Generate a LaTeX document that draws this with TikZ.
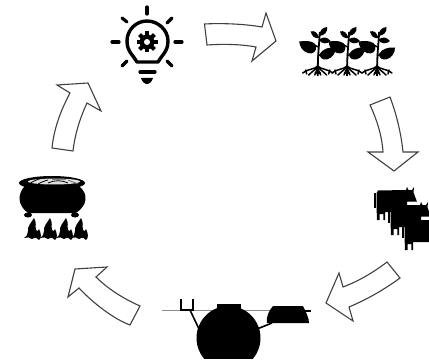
\documentclass[tikz,border=0pt]{standalone}
\tikzset{
	bigarrow/.style={draw=black!75,line width=1.1pt,fill=white,line join=miter},
	ink/.style={fill=black,draw=none},
	bulbline/.style={draw=black,line width=3.2pt,line cap=round},
	rootline/.style={draw=black,line width=1.5pt,line cap=round}
}
\newcommand{\plantshape}[1]{
	\begin{scope}[shift={(#1,0)}]
		\draw[black,line width=1.8pt] (2,32) .. controls (2,42) and (0,50) .. (0,76);
		\draw[black,line width=1.4pt] (0.5,47) -- (-3,45);
		\draw[black,line width=1.4pt] (0,56) -- (4,54);
		\fill[ink] (-18.5,41.5) .. controls (-10,40.5) and (-3,41) .. (-1.5,46) .. controls (-1,52) and (-5,54.5) .. (-10,53) .. controls (-15,51) and (-18,47) .. (-18.5,41.5) -- cycle;
		\fill[ink] (18,47.5) .. controls (12,47) and (5,48.5) .. (2,54) .. controls (2,58) and (5,60) .. (9,59.5) .. controls (15,58) and (18,53) .. (18,47.5) -- cycle;
		\fill[ink] (-7,31.5) .. controls (-3,30) and (0,33) .. (1.5,38) .. controls (-3,39) and (-6,36) .. (-7,31.5) -- cycle;
		\fill[ink] (9.5,27) .. controls (5,27.5) and (2,30) .. (1.5,36) .. controls (7,35.5) and (10,32) .. (9.5,27) -- cycle;
		\fill[ink] (13,41) .. controls (9,36.5) and (5,36.5) .. (1.5,40) .. controls (4,44) and (9,44.5) .. (13,41) -- cycle;
		\draw[rootline] (0,66) .. controls (-4,70) and (-8,68) .. (-15,73);
		\draw[rootline] (0,67) .. controls (-3,70) and (-6,72) .. (-9,75);
		\draw[rootline] (0,68) -- (-3,75);
		\draw[rootline] (0,66) .. controls (4,70) and (8,68) .. (15,73);
		\draw[rootline] (0,67) .. controls (3,70) and (6,72) .. (9,75);
		\draw[rootline] (0,68) -- (3,75);
		\draw[rootline] (-2.5,73) -- (2.5,73);
		\draw[rootline] (-12,70) -- (-11,74);
		\draw[rootline] (12,70) -- (11,74);
	\end{scope}
}
\newcommand{\cowshape}[2]{
	\begin{scope}[shift={(#1,#2)}]
		\fill[ink] (0,6) rectangle (1.5,21);
		\fill[ink] (2.6,6) -- (4,3.5) -- (32,3) -- (33,0) -- (34.5,3) -- (38,3) -- (40,0) -- (39.5,5.5) -- (43,14.7) -- (33,14.7) -- (33,18) -- (31,25) -- (11,25) -- (11,33) -- (9.3,33) -- (9.3,27) -- (5.5,27) -- (5.5,33) -- (2.8,33) -- cycle;
	\end{scope}
}
\newcommand{\flameshape}[1]{
	\begin{scope}[shift={(#1,240)}]
		\fill[ink] (-9,-2) .. controls (-6,-4) and (-5,-6) .. (-5,-9) .. controls (-6,-13) and (-2,-17) .. (1,-22) .. controls (4,-17) and (2,-13) .. (3,-10) .. controls (4,-8) and (6,-9) .. (6,-11) .. controls (8,-7) and (9,-2) .. (6,0) .. controls (3,-3) and (1,-3) .. (-1,-1) .. controls (-3,-3) and (-6,-3) .. (-9,-2) -- cycle;
	\end{scope}
}
\begin{document}
\begin{tikzpicture}[x=1pt,y=-1pt]
	\useasboundingbox (0,0) rectangle (429,361);
	\clip (0,0) rectangle (429,361);

	\draw[bigarrow] (204.5,24) .. controls (222,23) and (245,24) .. (262,27) -- (266,13) -- (276,41) -- (252,61) -- (256,47) .. controls (240,44) and (222,44) .. (207,45) -- cycle;
	\draw[bigarrow] (370,105) -- (390,97) .. controls (396,113) and (401,132) .. (403,152) -- (418,152) -- (394,171) -- (368,152) -- (383,152) .. controls (382,136) and (377,120) .. (370,105) -- cycle;
	\draw[bigarrow] (387,262) -- (400,278) .. controls (385,289) and (368,299) .. (349,307) -- (353,321) -- (326,303) -- (339,273) -- (343,287) .. controls (359,281) and (374,272) .. (387,262) -- cycle;
	\draw[bigarrow] (140,306) -- (130,325) .. controls (114,319) and (94,304) .. (79,288) -- (68,297) -- (75,269) -- (107,267) -- (96,277) .. controls (108,289) and (124,299) .. (140,306) -- cycle;
	\draw[bigarrow] (52,148) -- (73,151) .. controls (75,134) and (80,118) .. (87,103) -- (101,111) -- (88,83) -- (57,85) -- (70,93) .. controls (61,110) and (54,128) .. (52,148) -- cycle;

	\draw[bulbline] (147,7) -- (147,14);
	\draw[bulbline] (112,42) -- (119,42);
	\draw[bulbline] (175,42) -- (182,42);
	\draw[bulbline] (122,18) -- (127,22);
	\draw[bulbline] (172,18) -- (167,23);
	\draw[bulbline] (122,66) -- (127,61);
	\draw[bulbline] (172,66) -- (167,61);
	\draw[black,line width=3.4pt,line join=round] (137,62) .. controls (134,56) and (127,52) .. (127,41) .. controls (127,30) and (136,21) .. (147,21) .. controls (158,21) and (168,30) .. (168,41) .. controls (168,52) and (161,56) .. (158,62) -- cycle;
	\draw[bulbline] (140,72) -- (155,72);
	\fill[ink] (141,78) -- (153,78) .. controls (152,82) and (149,84) .. (147,84) .. controls (145,84) and (142,82) .. (141,78) -- cycle;
	\fill[ink] (147,42) circle (7.5pt);
	\foreach \a in {0,45,...,315}
		\fill[ink,rotate around={\a:(147,42)}] (145,31.5) rectangle (149,36);
	\fill[white] (147,42) circle (3pt);

	\plantshape{317.7}
	\plantshape{347}
	\plantshape{377}

	\cowshape{374}{187}
	\cowshape{388}{202}
	\cowshape{402}{217}

	\draw[black!45,line width=0.8pt] (162,310) -- (272,310);
	\begin{scope}
		\clip (190,300) rectangle (265,358);
		\fill[ink] (228.5,338) circle (32pt);
	\end{scope}
	\fill[ink] (217,304) rectangle (241,313);
	\draw[black,line width=1.2pt] (181,299) -- (181,310) -- (193,310) -- (193,299);
	\draw[black,line width=1.6pt] (190,310) -- (199,329);
	\draw[black,line width=1.6pt] (257,329) -- (272,323);
	\fill[ink] (273,306) -- (303,306) .. controls (306,312) and (309,318) .. (309,323) -- (267,323) .. controls (266,316) and (269,311) .. (273,306) -- cycle;
	\draw[black,line width=1.6pt] (298,311) -- (311,311);

	\fill[ink] (52,183) ellipse (33pt and 7pt);
	\fill[ink] (24,187) .. controls (18,194) and (17,205) .. (28,213) -- (76,213) .. controls (88,205) and (88,194) .. (80,187) -- cycle;
	\fill[ink] (28,215) ellipse (4pt and 2.5pt);
	\fill[ink] (75,215) ellipse (4pt and 2.5pt);
	\fill[black!12] (54,181.5) ellipse (26pt and 3pt);
	\draw[black,line width=0.8pt] (29,184) .. controls (35,180) and (40,178) .. (46,178);
	\draw[black,line width=0.8pt] (38,184) .. controls (42,182) and (44,181) .. (48,180);
	\draw[black,line width=0.8pt] (48,183) .. controls (54,180) and (62,180) .. (68,183);
	\draw[black!50,line width=0.8pt] (52,179) -- (66,179);
	\draw[black!60,line width=0.8pt] (68,180) -- (78,184);

	\flameshape{33}
	\flameshape{49}
	\flameshape{65}
	\flameshape{80}
\end{tikzpicture}
\end{document}
